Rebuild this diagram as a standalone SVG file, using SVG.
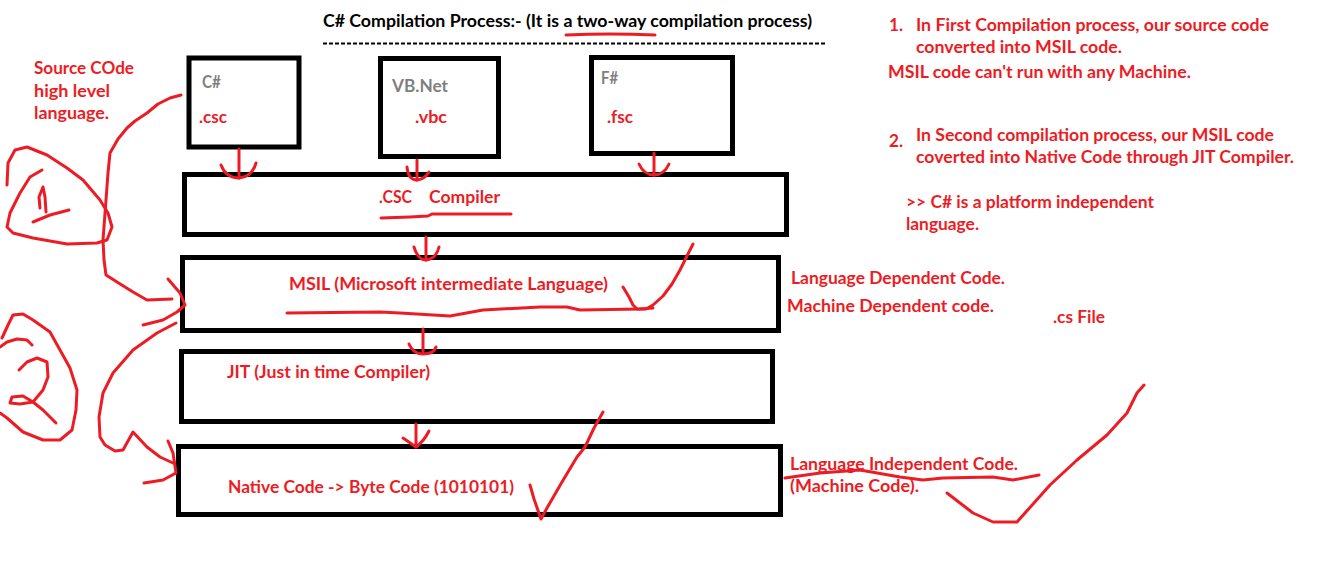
<svg xmlns="http://www.w3.org/2000/svg" width="1342" height="569" viewBox="0 0 1342 569">
<style>
text{font-family:Lato,"Liberation Sans",sans-serif;font-weight:bold;font-size:16.5px}
.r{fill:#ED1C24}
.g{fill:#7F7F7F}
.k{fill:#000}
.box{fill:#fff;stroke:#000;stroke-width:5}
.pen{fill:none;stroke:#ED1C24;stroke-width:3;stroke-linecap:round;stroke-linejoin:round}
</style>
<rect width="1342" height="569" fill="#fff"/>

<g id="title">
<text class="k" x="323" y="27" textLength="489" lengthAdjust="spacingAndGlyphs">C# Compilation Process:- (It is a two-way compilation process)</text>
<line x1="323" y1="43.5" x2="827" y2="43.5" stroke="#000" stroke-width="2" stroke-dasharray="4 2"/>
<path class="pen" d="M566,35 Q610,33 655,35"/>
</g>

<g id="notes">
<text class="r" x="889" y="31" textLength="14" lengthAdjust="spacingAndGlyphs">1.</text>
<text class="r" x="916" y="31" textLength="353" lengthAdjust="spacingAndGlyphs">In First Compilation process, our source code</text>
<text class="r" x="916" y="53" textLength="206" lengthAdjust="spacingAndGlyphs">converted into MSIL code.</text>
<text class="r" x="888" y="78" textLength="303" lengthAdjust="spacingAndGlyphs">MSIL code can't run with any Machine.</text>
<text class="r" x="889" y="147" textLength="14" lengthAdjust="spacingAndGlyphs">2.</text>
<text class="r" x="916" y="141" textLength="358" lengthAdjust="spacingAndGlyphs">In Second compilation process, our MSIL code</text>
<text class="r" x="916" y="163" textLength="378" lengthAdjust="spacingAndGlyphs">coverted into Native Code through JIT Compiler.</text>
<text class="r" x="906" y="208" textLength="248" lengthAdjust="spacingAndGlyphs">&gt;&gt; C# is a platform independent</text>
<text class="r" x="906" y="230" textLength="73" lengthAdjust="spacingAndGlyphs">language.</text>
</g>

<g id="source-note">
<text class="r" x="34" y="74" textLength="100" lengthAdjust="spacingAndGlyphs">Source COde</text>
<text class="r" x="34" y="97" textLength="76" lengthAdjust="spacingAndGlyphs">high level</text>
<text class="r" x="34" y="119" textLength="75" lengthAdjust="spacingAndGlyphs">language.</text>
</g>

<g id="node-csharp">
<rect class="box" x="189" y="58" width="110" height="89" stroke-width="4"/>
<text class="g" x="202" y="88" textLength="19" lengthAdjust="spacingAndGlyphs">C#</text>
<text class="r" x="199" y="123" textLength="28" lengthAdjust="spacingAndGlyphs">.csc</text>
</g>

<g id="node-vbnet">
<rect class="box" x="380.5" y="58.5" width="118" height="98"/>
<text class="g" x="392" y="92" textLength="56" lengthAdjust="spacingAndGlyphs">VB.Net</text>
<text class="r" x="415" y="123" textLength="32" lengthAdjust="spacingAndGlyphs">.vbc</text>
</g>

<g id="node-fsharp">
<rect class="box" x="591.5" y="57.5" width="141" height="96"/>
<text class="g" x="601" y="84" textLength="17" lengthAdjust="spacingAndGlyphs">F#</text>
<text class="r" x="607" y="123" textLength="26" lengthAdjust="spacingAndGlyphs">.fsc</text>
</g>

<g id="node-compiler">
<rect class="box" x="184.5" y="174.5" width="602" height="60"/>
<text class="r" x="379" y="203" textLength="33" lengthAdjust="spacingAndGlyphs">.CSC</text>
<text class="r" x="429" y="203" textLength="71" lengthAdjust="spacingAndGlyphs">Compiler</text>
<path class="pen" d="M381,218 L410,217 L428,216 L432,214 L470,214 L511,214"/>
</g>

<g id="node-msil">
<rect class="box" x="182.5" y="257.5" width="596" height="73"/>
<text class="r" x="289" y="290" textLength="319" lengthAdjust="spacingAndGlyphs">MSIL (Microsoft intermediate Language)</text>
<path class="pen" d="M287,313 L380,312 L400,313 L450,316 L483,310 L540,307 L567,307 L580,310 L640,309 L653,308"/>
<path class="pen" d="M623,287 L629,297 L633,305 L637,309 L646,309 L653,305 L663,296 L672,284 L680,270 L686,258 L693,244"/>
<text class="r" x="791" y="284" textLength="214" lengthAdjust="spacingAndGlyphs">Language Dependent Code.</text>
<text class="r" x="787" y="312" textLength="207" lengthAdjust="spacingAndGlyphs">Machine Dependent code.</text>
</g>

<g id="cs-file-note">
<text class="r" x="1053" y="323" textLength="52" lengthAdjust="spacingAndGlyphs">.cs File</text>
</g>

<g id="node-jit">
<rect class="box" x="181.5" y="351.5" width="591" height="70"/>
<text class="r" x="227" y="378" textLength="203" lengthAdjust="spacingAndGlyphs">JIT (Just in time Compiler)</text>
</g>

<g id="node-native">
<rect class="box" x="178.5" y="446.5" width="602" height="68"/>
<text class="r" x="228" y="493" textLength="286" lengthAdjust="spacingAndGlyphs">Native Code -&gt; Byte Code (1010101)</text>
<path class="pen" d="M530,485 L534,499 L541,519 L547,508 L562,482 L577,457 L585,447 L594,428 L603,412"/>
<text class="r" x="790" y="470" textLength="228" lengthAdjust="spacingAndGlyphs">Language Independent Code.</text>
<text class="r" x="790" y="492" textLength="129" lengthAdjust="spacingAndGlyphs">(Machine Code).</text>
<path class="pen" d="M785,478 L820,473 L860,470 L900,477 L923,480 L943,478 L993,477 L1013,480 L1039,475"/>
<path class="pen" d="M947,493 L960,503 L973,513 L993,522 L1017,522 L1050,485 L1077,460 L1107,435 L1127,413 L1137,393 L1144,385"/>
</g>

<g id="connectors">
<path class="pen" d="M239,149 L239,178"/>
<path class="pen" d="M221,165 Q226,178 239,178 Q252,177 256,163"/>
<path class="pen" d="M417,160 L417,180"/>
<path class="pen" d="M407,167 Q408,180 417,180 Q425,179 429,172"/>
<path class="pen" d="M654,153 L654,175"/>
<path class="pen" d="M639,164 Q644,175 654,175 Q664,175 669,164"/>
<path class="pen" d="M426,237 L426,260"/>
<path class="pen" d="M414,247 Q418,260 426,260 Q436,259 439,247"/>
<path class="pen" d="M423,329 L423,353"/>
<path class="pen" d="M409,344 Q413,354 423,354 Q434,354 436,347"/>
<path class="pen" d="M416,424 L416,447"/>
<path class="pen" d="M403,438 L416,447 Q424,441 429,431"/>
</g>

<g id="annotation-1">
<path class="pen" d="M181,95 L170,98 L158,104 L147,113 L135,121 L127,128 L118,139 L110,153 L108,173 L106,200 L103,240 L104,260 L106,275 L117,282 L133,292 L147,300 L172,299"/>
<path class="pen" d="M168,279 L180,293 L185,305 L177,312 L163,320 L143,325"/>
<path class="pen" d="M7,185 L8,163 L15,150 L27,147 L47,155 L67,168 L83,180 L100,200 L108,213 L112,227 L107,240 L97,243 L67,244 L33,238 L13,233 L7,227 L10,213 L20,193 L30,177 L42,170"/>
<path class="pen" d="M40,208 L39,197 L43,187 L45,197 L46,212"/>
<path class="pen" d="M33,222 L50,215 L69,210"/>
</g>

<g id="annotation-2">
<path class="pen" d="M176,323 L157,333 L133,350 L113,373 L103,393 L99,417 L100,437 L105,445 L115,451 L123,450 L133,432 L147,447 L160,457 L173,463"/>
<path class="pen" d="M168,441 L173,453 L176,473 L163,480 L144,483"/>
<path class="pen" d="M2,338 L8,325 L13,315 L23,314 L33,320 L50,332 L60,350 L70,368 L77,390 L76,410 L72,430 L60,440 L43,440 L23,432 L7,418 L0,413"/>
<path class="pen" d="M0,347 L7,342 L17,339 L27,340 L32,345"/>
<path class="pen" d="M19,370 L27,362 L37,358 L47,362 L48,377 L43,390 L33,402 L20,404 L10,403 L12,397 L23,396 L33,402 L43,410 L56,423"/>
</g>
</svg>
